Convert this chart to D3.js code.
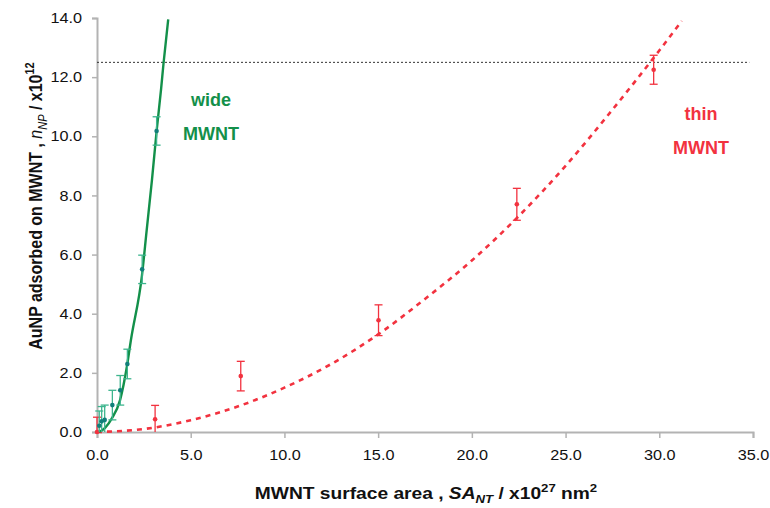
<!DOCTYPE html>
<html>
<head>
<meta charset="utf-8">
<script src="https://cdn.jsdelivr.net/npm/d3@7"></script>
<style>
  body { margin: 0; background: #fff; }
  svg { font-family: "Liberation Sans", Arial, sans-serif; }
</style>
</head>
<body>
<svg id="chart" width="770" height="508"></svg>
<script>
// measured points (x = surface area x10^27 nm^2, y = nNP x10^12, e = error)
const wide_x = [0.12, 0.25, 0.41, 0.82, 1.24, 1.62, 2.41, 3.18]
const wide_y = [0.21, 0.36, 0.41, 0.91, 1.41, 2.30, 5.50, 10.18]
const wide_e = [0.5, 0.5, 0.5, 0.5, 0.5, 0.5, 0.48, 0.48]

const thin_x = [0.0, 3.1, 7.67, 15.02, 22.4, 29.7]
const thin_y = [0.0, 0.43, 1.89, 3.78, 7.70, 12.25]
const thin_e = [0.5, 0.47, 0.5, 0.52, 0.54, 0.49]

// fitted trend curves
const wide_fit_x = [0.11, 0.43, 0.80, 1.23, 1.60, 1.81, 2.40, 2.65, 2.93, 3.18, 3.42, 3.55, 3.80]
const wide_fit_y = [0.0, 0.14, 0.47, 1.08, 2.23, 3.11, 5.3, 6.82, 8.51, 10.17, 11.6, 12.47, 13.95]
const thin_fit_x = [0, 2.5, 5, 7.5, 10, 12.5, 15, 17.5, 20, 22.5, 25, 27.5, 30, 31.2]
const thin_fit_y = [0, 0.1, 0.4, 0.86, 1.5, 2.3, 3.3, 4.5, 5.8, 7.3, 9.0, 10.9, 12.9, 13.9]

const limit_line = 12.5
const x_ticks = [0, 5, 10, 15, 20, 25, 30, 35]
const y_ticks = [0, 2, 4, 6, 8, 10, 12, 14]

const green = "#13904a"
const teal = "#117f7a"
const green_err = "#3db58e"
const red = "#f2323f"
const stretch = 1.2       // the source figure is stretched sideways
const tick_stretch = 1.12

const svg = d3.select("#chart")
const x = d3.scaleLinear().domain([0, 35]).range([97, 753])
const y = d3.scaleLinear().domain([0, 14]).range([432, 18])

// axes
const xAxis = svg.append("g")
    .attr("transform", "translate(0," + y(0) + ")")
    .call(d3.axisBottom(x).tickValues(x_ticks).tickSize(6).tickPadding(12).tickFormat(d3.format(".1f")))
const yAxis = svg.append("g")
    .attr("transform", "translate(" + x(0) + ",0)")
    .call(d3.axisLeft(y).tickValues(y_ticks).tickSize(5).tickFormat(d3.format(".1f")))

for (const ax of [xAxis, yAxis]) {
    ax.select(".domain").attr("stroke", "#b3b3b3").attr("stroke-width", 2)
    ax.selectAll(".tick line").attr("stroke", "#b3b3b3").attr("stroke-width", 1.5)
    ax.selectAll(".tick text")
        .attr("font-size", 14.5).attr("fill", "#111")
        .attr("transform", "scale(" + tick_stretch + ",1)")
}
yAxis.selectAll(".tick text").attr("x", -15 / tick_stretch)

// horizontal reference line
svg.append("line")
    .attr("x1", x(0)).attr("x2", x(34.8))
    .attr("y1", y(limit_line)).attr("y2", y(limit_line))
    .attr("stroke", "#333").attr("stroke-width", 1)
    .attr("stroke-dasharray", "2,2")

const line = d3.line()
    .x(d => x(d[0]))
    .y(d => y(d[1]))
    .curve(d3.curveMonotoneX)

// trend curves
svg.append("path")
    .attr("d", line(thin_fit_x.map((v, i) => [v, thin_fit_y[i]])))
    .attr("fill", "none").attr("stroke", red).attr("stroke-width", 2.6)
    .attr("stroke-dasharray", "5,5")

svg.append("path")
    .attr("d", line(wide_fit_x.map((v, i) => [v, wide_fit_y[i]])))
    .attr("fill", "none").attr("stroke", green).attr("stroke-width", 2.4)

// error bars + markers
function draw_points(xs, ys, es, bar_color, dot_color) {
    const g = svg.append("g")
    const data = xs.map((v, i) => ({x: v, y: ys[i], e: es[i]}))
    g.selectAll("line.bar").data(data).join("line")
        .attr("x1", d => x(d.x)).attr("x2", d => x(d.x))
        .attr("y1", d => y(d.y + d.e)).attr("y2", d => y(Math.max(0, d.y - d.e)))
        .attr("stroke", bar_color).attr("stroke-width", 1.3)
    g.selectAll("line.cap1").data(data).join("line")
        .attr("x1", d => x(d.x) - 4).attr("x2", d => x(d.x) + 4)
        .attr("y1", d => y(d.y + d.e)).attr("y2", d => y(d.y + d.e))
        .attr("stroke", bar_color).attr("stroke-width", 1.3)
    g.selectAll("line.cap2").data(data.filter(d => d.y - d.e > 0)).join("line")
        .attr("x1", d => x(d.x) - 4).attr("x2", d => x(d.x) + 4)
        .attr("y1", d => y(d.y - d.e)).attr("y2", d => y(d.y - d.e))
        .attr("stroke", bar_color).attr("stroke-width", 1.3)
    g.selectAll("circle").data(data).join("circle")
        .attr("cx", d => x(d.x)).attr("cy", d => y(d.y))
        .attr("r", 2.3).attr("fill", dot_color)
}
draw_points(thin_x, thin_y, thin_e, red, red)
draw_points(wide_x, wide_y, wide_e, green_err, teal)

// series labels
function label(lines, cx, cy, color) {
    const t = svg.append("text")
        .attr("text-anchor", "middle")
        .attr("font-size", 18).attr("font-weight", "bold")
        .attr("fill", color)
    lines.forEach((s, i) => {
        t.append("tspan").attr("x", cx).attr("y", cy + i * 34).text(s)
    })
}
label(["wide", "MWNT"], 211, 106, green)
label(["thin", "MWNT"], 701, 120, red)

// axis titles
const xt = svg.append("text")
    .attr("transform", "translate(426,499) scale(" + stretch + ",1)")
    .attr("text-anchor", "middle")
    .attr("font-size", 16).attr("font-weight", "bold").attr("fill", "#111")
xt.append("tspan").text("MWNT surface area , ")
xt.append("tspan").attr("font-style", "italic").text("SA")
xt.append("tspan").attr("font-style", "italic").attr("font-size", 11).attr("dy", 4).text("NT")
xt.append("tspan").attr("dy", -4).text(" / x10")
xt.append("tspan").attr("font-size", 11).attr("dy", -7).text("27")
xt.append("tspan").attr("dy", 7).text(" nm")
xt.append("tspan").attr("font-size", 11).attr("dy", -7).text("2")

const yt = svg.append("text")
    .attr("transform", "translate(42,206) scale(" + stretch + ",1) rotate(-90)")
    .attr("text-anchor", "middle")
    .attr("font-size", 16).attr("font-weight", "bold").attr("fill", "#111")
yt.append("tspan").text("AuNP adsorbed on MWNT , ")
yt.append("tspan").attr("font-style", "italic").attr("font-weight", "normal").text("n")
yt.append("tspan").attr("font-style", "italic").attr("font-weight", "normal").attr("font-size", 11).attr("dy", 4).text("NP")
yt.append("tspan").attr("dy", -4).text(" / x10")
yt.append("tspan").attr("font-size", 11).attr("dy", -7).text("12")
</script>
</body>
</html>
